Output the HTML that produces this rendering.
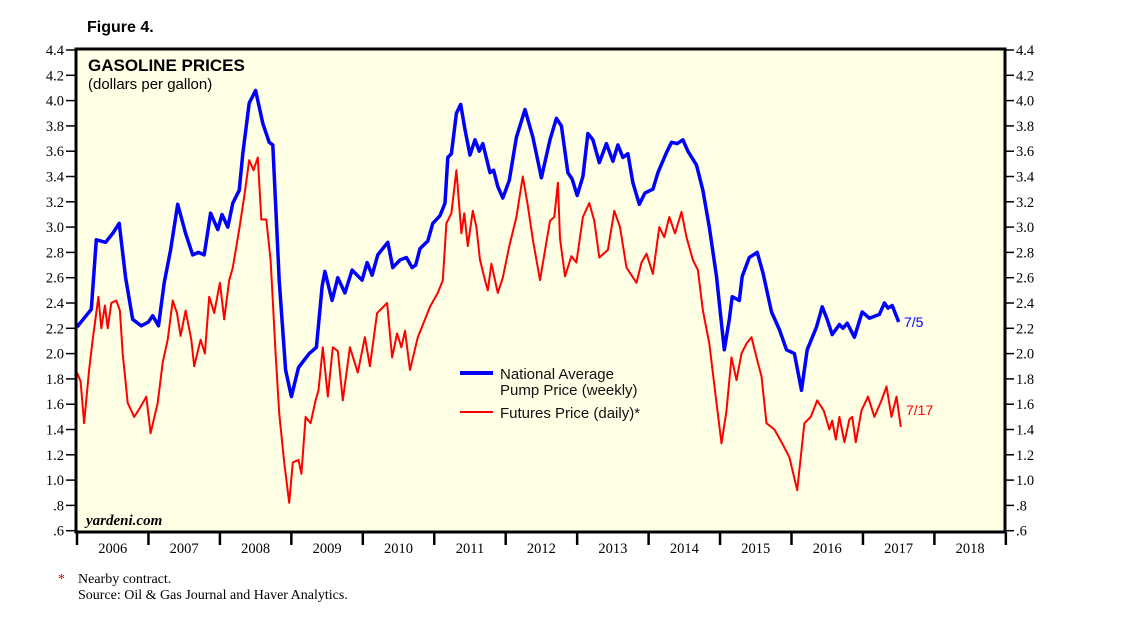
<!DOCTYPE html>
<html><head><meta charset="utf-8"><style>
body{margin:0;background:#fff;width:1138px;height:622px;overflow:hidden}
svg text{font-family:"Liberation Serif",serif}
</style></head><body>
<svg id="chart" width="1138" height="622" viewBox="0 0 1138 622" xmlns="http://www.w3.org/2000/svg">
<rect x="76" y="49" width="929" height="483" fill="#FFFFE6"/>
<g id="marks"></g>
<rect x="76" y="49" width="929" height="483" fill="none" stroke="#000" stroke-width="3"/>
<g id="axes"></g>
<text x="87" y="32" font-weight="bold" font-size="16" style="font-family:'Liberation Sans',sans-serif">Figure 4.</text>
<text x="88" y="71" font-weight="bold" font-size="17" style="font-family:'Liberation Sans',sans-serif">GASOLINE PRICES</text>
<text x="88" y="89" font-size="15" style="font-family:'Liberation Sans',sans-serif">(dollars per gallon)</text>
<text x="86" y="525" font-weight="bold" font-style="italic" font-size="15">yardeni.com</text>
<g>
<line x1="460" y1="373" x2="493" y2="373" stroke="#0000ff" stroke-width="4"/>
<text x="500" y="379" font-size="15" fill="#111" style="font-family:'Liberation Sans',sans-serif">National Average</text>
<text x="500" y="395" font-size="15" fill="#111" style="font-family:'Liberation Sans',sans-serif">Pump Price (weekly)</text>
<line x1="460" y1="412" x2="493" y2="412" stroke="#ff0000" stroke-width="2"/>
<text x="500" y="418" font-size="15" fill="#111" style="font-family:'Liberation Sans',sans-serif">Futures Price (daily)*</text>
</g>
<text x="904" y="327" font-size="14" fill="#0000ff" style="font-family:'Liberation Sans',sans-serif">7/5</text>
<text x="906" y="415" font-size="14" fill="#ff0000" style="font-family:'Liberation Sans',sans-serif">7/17</text>
<text x="58" y="583" font-size="14" fill="#c00">*</text>
<text x="78" y="583" font-size="14">Nearby contract.</text>
<text x="78" y="599" font-size="14">Source: Oil &amp; Gas Journal and Haver Analytics.</text>
</svg>
<script>
const yTicks=[4.4,4.2,4.0,3.8,3.6,3.4,3.2,3.0,2.8,2.6,2.4,2.2,2.0,1.8,1.6,1.4,1.2,1.0,0.8,0.6];
const yearLabels=[2006,2007,2008,2009,2010,2011,2012,2013,2014,2015,2016,2017,2018];
const pumpDates=[2006.0,2006.1,2006.2,2006.27,2006.4,2006.5,2006.59,2006.68,2006.78,2006.9,2007.0,2007.06,2007.14,2007.22,2007.31,2007.41,2007.52,2007.62,2007.7,2007.78,2007.87,2007.97,2008.03,2008.11,2008.18,2008.27,2008.32,2008.41,2008.5,2008.6,2008.69,2008.74,2008.83,2008.92,2009.0,2009.1,2009.25,2009.35,2009.43,2009.47,2009.57,2009.65,2009.75,2009.85,2009.99,2010.06,2010.13,2010.21,2010.35,2010.42,2010.52,2010.61,2010.69,2010.74,2010.8,2010.91,2010.98,2011.08,2011.15,2011.19,2011.24,2011.31,2011.37,2011.43,2011.5,2011.57,2011.63,2011.68,2011.78,2011.83,2011.89,2011.96,2012.05,2012.15,2012.27,2012.38,2012.5,2012.62,2012.71,2012.78,2012.87,2012.93,2013.0,2013.08,2013.15,2013.22,2013.31,2013.41,2013.5,2013.57,2013.64,2013.71,2013.78,2013.87,2013.95,2014.06,2014.13,2014.25,2014.32,2014.4,2014.48,2014.55,2014.67,2014.76,2014.85,2014.95,2015.0,2015.06,2015.13,2015.17,2015.27,2015.31,2015.41,2015.52,2015.6,2015.72,2015.83,2015.93,2016.04,2016.14,2016.22,2016.35,2016.43,2016.5,2016.57,2016.67,2016.72,2016.78,2016.88,2016.99,2017.09,2017.23,2017.3,2017.35,2017.41,2017.5];
const pumpValues=[2.21,2.28,2.35,2.9,2.88,2.95,3.03,2.6,2.27,2.22,2.25,2.3,2.22,2.56,2.82,3.18,2.95,2.78,2.8,2.78,3.11,2.98,3.1,3.0,3.19,3.29,3.58,3.98,4.08,3.82,3.67,3.65,2.58,1.87,1.66,1.89,2.0,2.05,2.53,2.65,2.42,2.6,2.48,2.66,2.58,2.72,2.62,2.78,2.88,2.68,2.74,2.76,2.68,2.7,2.83,2.89,3.03,3.09,3.19,3.55,3.58,3.9,3.97,3.77,3.57,3.69,3.6,3.66,3.43,3.45,3.32,3.23,3.37,3.71,3.93,3.71,3.39,3.69,3.86,3.8,3.43,3.38,3.25,3.4,3.74,3.69,3.51,3.66,3.52,3.65,3.55,3.58,3.35,3.18,3.27,3.3,3.43,3.59,3.67,3.66,3.69,3.6,3.49,3.29,3.0,2.61,2.34,2.03,2.27,2.45,2.42,2.61,2.76,2.8,2.64,2.33,2.19,2.03,2.0,1.71,2.03,2.21,2.37,2.27,2.15,2.23,2.2,2.24,2.13,2.33,2.28,2.31,2.4,2.36,2.38,2.25];
const futDates=[2006.0,2006.05,2006.1,2006.17,2006.22,2006.3,2006.34,2006.39,2006.43,2006.48,2006.55,2006.6,2006.64,2006.71,2006.8,2006.88,2006.97,2007.03,2007.13,2007.2,2007.27,2007.34,2007.4,2007.45,2007.52,2007.6,2007.64,2007.73,2007.79,2007.85,2007.92,2008.0,2008.06,2008.13,2008.18,2008.27,2008.34,2008.41,2008.47,2008.53,2008.58,2008.65,2008.71,2008.74,2008.78,2008.83,2008.9,2008.97,2009.02,2009.1,2009.14,2009.2,2009.27,2009.34,2009.38,2009.44,2009.51,2009.58,2009.65,2009.72,2009.82,2009.93,2010.03,2010.1,2010.2,2010.34,2010.41,2010.48,2010.54,2010.59,2010.66,2010.77,2010.87,2010.94,2011.05,2011.12,2011.17,2011.24,2011.31,2011.38,2011.42,2011.47,2011.54,2011.59,2011.64,2011.71,2011.75,2011.8,2011.89,2011.96,2012.05,2012.15,2012.24,2012.31,2012.38,2012.48,2012.62,2012.68,2012.73,2012.76,2012.83,2012.92,2012.99,2013.08,2013.17,2013.24,2013.31,2013.43,2013.52,2013.6,2013.69,2013.83,2013.9,2013.97,2014.06,2014.15,2014.22,2014.29,2014.37,2014.46,2014.53,2014.62,2014.69,2014.76,2014.85,2014.95,2015.02,2015.09,2015.16,2015.23,2015.3,2015.37,2015.44,2015.51,2015.58,2015.65,2015.76,2015.87,2015.97,2016.08,2016.18,2016.27,2016.36,2016.45,2016.53,2016.57,2016.62,2016.67,2016.74,2016.81,2016.85,2016.9,2016.98,2017.07,2017.16,2017.26,2017.33,2017.4,2017.47,2017.53];
const futValues=[1.85,1.78,1.45,1.87,2.11,2.45,2.2,2.38,2.2,2.4,2.42,2.34,2.0,1.61,1.5,1.57,1.66,1.37,1.61,1.93,2.11,2.42,2.32,2.14,2.34,2.11,1.9,2.11,2.0,2.45,2.32,2.56,2.27,2.58,2.68,2.98,3.24,3.53,3.45,3.55,3.06,3.06,2.74,2.42,2.0,1.53,1.14,0.82,1.14,1.16,1.05,1.5,1.45,1.63,1.71,2.05,1.66,2.05,2.02,1.63,2.05,1.85,2.13,1.9,2.32,2.4,1.97,2.16,2.05,2.18,1.87,2.13,2.27,2.37,2.48,2.58,3.03,3.11,3.45,2.95,3.11,2.85,3.13,3.0,2.74,2.58,2.5,2.71,2.48,2.6,2.85,3.08,3.4,3.17,2.9,2.58,3.05,3.08,3.35,2.91,2.61,2.77,2.72,3.08,3.19,3.05,2.76,2.82,3.13,3.0,2.68,2.56,2.72,2.79,2.63,3.0,2.92,3.08,2.95,3.12,2.92,2.74,2.66,2.34,2.08,1.61,1.29,1.55,1.97,1.79,2.0,2.08,2.13,1.97,1.82,1.45,1.4,1.29,1.18,0.92,1.45,1.5,1.63,1.55,1.4,1.47,1.32,1.5,1.3,1.48,1.5,1.3,1.55,1.66,1.5,1.63,1.74,1.5,1.66,1.42,1.57];

const X0=77, PXY=71.45, Y0=50, PXV=126.5;
const xs=t=>X0+(t-2006)*PXY;
const ys=v=>Y0+(4.4-v)*PXV;
const NS='http://www.w3.org/2000/svg';
const marks=document.getElementById('marks');
const axes=document.getElementById('axes');
function mk(tag,attrs,parent){const e=document.createElementNS(NS,tag);for(const k in attrs)e.setAttribute(k,attrs[k]);parent.appendChild(e);return e;}

const fut=mk('polyline',{points:futDates.map((d,i)=>xs(d).toFixed(1)+','+ys(futValues[i]).toFixed(1)).join(' '),fill:'none',stroke:'#ff0000','stroke-width':2,'stroke-linejoin':'round'},marks);


const pump=mk('polyline',{points:pumpDates.map((d,i)=>xs(d).toFixed(1)+','+ys(pumpValues[i]).toFixed(1)).join(' '),fill:'none',stroke:'#0000ff','stroke-width':3.5,'stroke-linejoin':'round'},marks);



yTicks.forEach(v=>{
  const y=ys(v);
  const lbl=v<1?('.'+Math.round(v*10)):v.toFixed(1);
  const tl=mk('line',{x1:66,y1:y,x2:76,y2:y,stroke:'#000','stroke-width':1.5},axes);
  
  
  const tr=mk('line',{x1:1005,y1:y,x2:1014,y2:y,stroke:'#000','stroke-width':1.5},axes);
  
  
  const a=mk('text',{x:64,y:y+5,'text-anchor':'end','font-size':14.5},axes);
  a.textContent=lbl;
  
  
  const b=mk('text',{x:1016,y:y+5,'font-size':14.5},axes);
  b.textContent=lbl;
  
  
});
for(let i=0;i<=yearLabels.length;i++){
  const x=xs(2006+i);
  const t=mk('line',{x1:x,y1:532,x2:x,y2:545,stroke:'#000','stroke-width':2.5},axes);
  
  
}
yearLabels.forEach(yr=>{
  const t=mk('text',{x:xs(yr+0.5),y:553,'text-anchor':'middle','font-size':14.5},axes);
  t.textContent=yr;
  
  
});
</script>
</body></html>
